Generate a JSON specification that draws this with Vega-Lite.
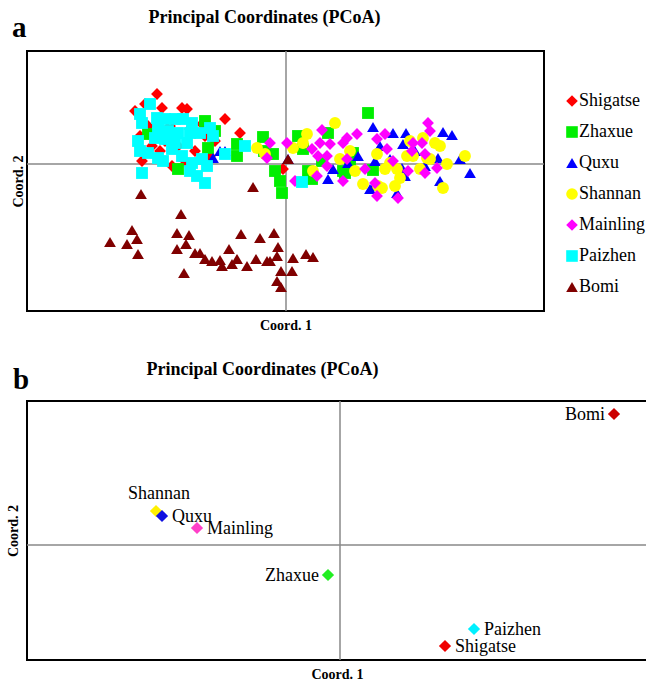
{
  "$schema": "https://vega.github.io/schema/vega-lite/v6.json",
  "padding": {"left": 5, "top": 7, "right": 0, "bottom": 0},
  "spacing": 26,
  "config": {
    "view": {"stroke": "#000", "strokeWidth": 2},
    "font": "Liberation Serif",
    "axis": {"domain": false, "ticks": false, "labels": false, "grid": false, "titleFont": "Liberation Serif", "titleFontSize": 14, "titleFontWeight": "bold", "titleColor": "#000"},
    "title": {"font": "Liberation Serif", "color": "#000"},
    "legend": {"labelFont": "Liberation Serif"},
    "text": {"font": "Liberation Serif"}
  },
  "resolve": {"scale": {"color": "independent", "shape": "independent", "x": "independent", "y": "independent"}},
  "vconcat": [
    {
      "width": 517,
      "height": 260,
      "title": {"text": "a", "anchor": "start", "frame": "group", "dx": -15, "font": "Liberation Serif", "fontSize": 29, "fontWeight": "bold", "offset": -35},
      "resolve": {"axis": {"x": "independent", "y": "independent"}},
      "layer": [
        {
          "data": {"values": [{"v": 0}]},
          "mark": {"type": "rule", "color": "#888", "strokeWidth": 1.5},
          "encoding": {"x": {"field": "v", "type": "quantitative", "scale": {"domain": [-2.59, 2.58], "nice": false, "zero": false},
            "axis": {"orient": "top", "title": "Principal Coordinates (PCoA)", "titleFont": "Liberation Serif", "titleFontSize": 18, "titlePadding": 25, "titleX": 237}}}
        },
        {
          "data": {"values": [{"v": 0}]},
          "mark": {"type": "rule", "color": "#888", "strokeWidth": 1.5},
          "encoding": {"y": {"field": "v", "type": "quantitative", "scale": {"domain": [-1.47, 1.13], "nice": false, "zero": false}, "axis": null}}
        },
        {
          "data": {"values": [
            {"pop":"Shigatse","x":-1.29,"y":0.70},{"pop":"Shigatse","x":-1.41,"y":0.60},{"pop":"Shigatse","x":-1.24,"y":0.56},{"pop":"Shigatse","x":-1.04,"y":0.56},{"pop":"Shigatse","x":-0.99,"y":0.55},{"pop":"Shigatse","x":-0.61,"y":0.45},{"pop":"Shigatse","x":-0.46,"y":0.31},{"pop":"Shigatse","x":-1.44,"y":0.03},{"pop":"Shigatse","x":-1.08,"y":0.18},{"pop":"Shigatse","x":-0.84,"y":0.40},{"pop":"Shigatse","x":-1.34,"y":0.18},{"pop":"Shigatse","x":-1.14,"y":-0.02},{"pop":"Shigatse","x":-1.51,"y":0.53},{"pop":"Shigatse","x":-1.38,"y":0.38},{"pop":"Shigatse","x":-1.16,"y":0.38},{"pop":"Shigatse","x":-0.96,"y":0.35},{"pop":"Shigatse","x":-0.81,"y":0.28},{"pop":"Shigatse","x":-1.26,"y":0.13},{"pop":"Shigatse","x":-0.91,"y":0.13},{"pop":"Shigatse","x":-0.71,"y":0.23},{"pop":"Shigatse","x":-1.21,"y":0.23},{"pop":"Shigatse","x":-1.01,"y":0.03},{"pop":"Shigatse","x":-1.46,"y":0.28},{"pop":"Shigatse","x":-0.76,"y":0.08},{"pop":"Shigatse","x":-0.03,"y":-0.05},
            {"pop":"Zhaxue","x":-1.38,"y":0.30},{"pop":"Zhaxue","x":-0.81,"y":0.43},{"pop":"Zhaxue","x":-0.78,"y":0.16},{"pop":"Zhaxue","x":-0.49,"y":0.20},{"pop":"Zhaxue","x":-0.49,"y":0.08},{"pop":"Zhaxue","x":-1.08,"y":-0.05},{"pop":"Zhaxue","x":-0.23,"y":0.27},{"pop":"Zhaxue","x":-0.13,"y":0.10},{"pop":"Zhaxue","x":-0.11,"y":-0.07},{"pop":"Zhaxue","x":-0.06,"y":-0.17},{"pop":"Zhaxue","x":-0.04,"y":-0.29},{"pop":"Zhaxue","x":0.12,"y":0.28},{"pop":"Zhaxue","x":0.17,"y":0.15},{"pop":"Zhaxue","x":0.22,"y":-0.07},{"pop":"Zhaxue","x":0.26,"y":-0.15},{"pop":"Zhaxue","x":0.42,"y":0.31},{"pop":"Zhaxue","x":0.36,"y":0.03},{"pop":"Zhaxue","x":0.64,"y":0.00},{"pop":"Zhaxue","x":0.59,"y":-0.09},{"pop":"Zhaxue","x":0.82,"y":0.51},{"pop":"Zhaxue","x":0.67,"y":0.11},{"pop":"Zhaxue","x":0.57,"y":-0.07},{"pop":"Zhaxue","x":0.87,"y":-0.06},{"pop":"Zhaxue","x":-0.71,"y":0.33},{"pop":"Zhaxue","x":-0.22,"y":0.13},
            {"pop":"Quxu","x":-0.73,"y":0.06},{"pop":"Quxu","x":-0.66,"y":0.13},{"pop":"Quxu","x":-0.61,"y":0.13},{"pop":"Quxu","x":0.02,"y":0.05},{"pop":"Quxu","x":0.47,"y":-0.05},{"pop":"Quxu","x":0.42,"y":-0.15},{"pop":"Quxu","x":0.62,"y":0.01},{"pop":"Quxu","x":0.72,"y":0.08},{"pop":"Quxu","x":0.87,"y":0.37},{"pop":"Quxu","x":1.07,"y":0.31},{"pop":"Quxu","x":1.20,"y":0.31},{"pop":"Quxu","x":1.57,"y":0.32},{"pop":"Quxu","x":1.66,"y":0.29},{"pop":"Quxu","x":1.84,"y":-0.09},{"pop":"Quxu","x":1.74,"y":0.05},{"pop":"Quxu","x":1.54,"y":-0.17},{"pop":"Quxu","x":0.84,"y":-0.25},{"pop":"Quxu","x":1.11,"y":-0.29},{"pop":"Quxu","x":1.19,"y":-0.12},{"pop":"Quxu","x":1.17,"y":0.20},{"pop":"Quxu","x":1.52,"y":0.06},{"pop":"Quxu","x":1.16,"y":-0.04},{"pop":"Quxu","x":1.04,"y":0.05},{"pop":"Quxu","x":0.88,"y":-0.22},{"pop":"Quxu","x":1.39,"y":-0.02},{"pop":"Quxu","x":1.29,"y":0.13},{"pop":"Quxu","x":0.94,"y":0.18},{"pop":"Quxu","x":0.89,"y":0.03},
            {"pop":"Shannan","x":0.49,"y":0.41},{"pop":"Shannan","x":0.21,"y":0.30},{"pop":"Shannan","x":0.07,"y":0.16},{"pop":"Shannan","x":0.27,"y":-0.07},{"pop":"Shannan","x":0.77,"y":-0.20},{"pop":"Shannan","x":0.96,"y":-0.24},{"pop":"Shannan","x":1.57,"y":-0.24},{"pop":"Shannan","x":1.79,"y":0.08},{"pop":"Shannan","x":1.54,"y":0.18},{"pop":"Shannan","x":0.91,"y":0.10},{"pop":"Shannan","x":1.27,"y":0.08},{"pop":"Shannan","x":1.11,"y":-0.05},{"pop":"Shannan","x":1.04,"y":0.01},{"pop":"Shannan","x":1.41,"y":0.06},{"pop":"Shannan","x":1.34,"y":-0.05},{"pop":"Shannan","x":-0.29,"y":0.16},{"pop":"Shannan","x":0.17,"y":0.21},{"pop":"Shannan","x":1.37,"y":0.26},{"pop":"Shannan","x":1.21,"y":0.08},{"pop":"Shannan","x":1.44,"y":0.05},{"pop":"Shannan","x":1.61,"y":0.00},{"pop":"Shannan","x":0.99,"y":-0.05},{"pop":"Shannan","x":1.14,"y":-0.14},{"pop":"Shannan","x":0.92,"y":-0.22},{"pop":"Shannan","x":1.09,"y":-0.22},{"pop":"Shannan","x":1.49,"y":0.21},{"pop":"Shannan","x":0.64,"y":0.13},{"pop":"Shannan","x":0.54,"y":0.05},{"pop":"Shannan","x":0.69,"y":-0.07},{"pop":"Shannan","x":1.24,"y":0.23},{"pop":"Shannan","x":-0.21,"y":0.10},
            {"pop":"Mainling","x":-0.16,"y":0.21},{"pop":"Mainling","x":-0.19,"y":0.06},{"pop":"Mainling","x":0.01,"y":0.21},{"pop":"Mainling","x":0.36,"y":0.34},{"pop":"Mainling","x":0.26,"y":0.15},{"pop":"Mainling","x":0.34,"y":0.21},{"pop":"Mainling","x":0.44,"y":0.20},{"pop":"Mainling","x":0.32,"y":0.08},{"pop":"Mainling","x":0.41,"y":0.08},{"pop":"Mainling","x":0.57,"y":0.21},{"pop":"Mainling","x":0.61,"y":0.26},{"pop":"Mainling","x":0.71,"y":0.30},{"pop":"Mainling","x":0.61,"y":0.05},{"pop":"Mainling","x":0.79,"y":-0.05},{"pop":"Mainling","x":0.31,"y":-0.12},{"pop":"Mainling","x":0.57,"y":-0.17},{"pop":"Mainling","x":0.41,"y":-0.02},{"pop":"Mainling","x":1.42,"y":0.41},{"pop":"Mainling","x":1.44,"y":0.33},{"pop":"Mainling","x":0.99,"y":0.30},{"pop":"Mainling","x":0.91,"y":0.25},{"pop":"Mainling","x":1.01,"y":0.15},{"pop":"Mainling","x":1.27,"y":0.21},{"pop":"Mainling","x":1.36,"y":0.21},{"pop":"Mainling","x":1.26,"y":0.13},{"pop":"Mainling","x":1.39,"y":0.10},{"pop":"Mainling","x":1.07,"y":0.03},{"pop":"Mainling","x":1.51,"y":-0.04},{"pop":"Mainling","x":1.22,"y":-0.07},{"pop":"Mainling","x":1.39,"y":-0.09},{"pop":"Mainling","x":0.89,"y":-0.19},{"pop":"Mainling","x":0.91,"y":-0.32},{"pop":"Mainling","x":1.12,"y":-0.34},{"pop":"Mainling","x":0.09,"y":-0.17},
            {"pop":"Paizhen","x":-1.36,"y":0.60},{"pop":"Paizhen","x":-1.46,"y":0.50},{"pop":"Paizhen","x":-1.44,"y":0.41},{"pop":"Paizhen","x":-1.29,"y":0.46},{"pop":"Paizhen","x":-1.21,"y":0.45},{"pop":"Paizhen","x":-1.11,"y":0.45},{"pop":"Paizhen","x":-1.03,"y":0.45},{"pop":"Paizhen","x":-0.94,"y":0.41},{"pop":"Paizhen","x":-1.28,"y":0.35},{"pop":"Paizhen","x":-1.18,"y":0.33},{"pop":"Paizhen","x":-1.08,"y":0.31},{"pop":"Paizhen","x":-0.96,"y":0.31},{"pop":"Paizhen","x":-0.86,"y":0.31},{"pop":"Paizhen","x":-0.76,"y":0.36},{"pop":"Paizhen","x":-0.73,"y":0.28},{"pop":"Paizhen","x":-1.48,"y":0.23},{"pop":"Paizhen","x":-1.31,"y":0.26},{"pop":"Paizhen","x":-1.21,"y":0.25},{"pop":"Paizhen","x":-1.11,"y":0.21},{"pop":"Paizhen","x":-0.99,"y":0.21},{"pop":"Paizhen","x":-1.46,"y":0.13},{"pop":"Paizhen","x":-1.38,"y":0.11},{"pop":"Paizhen","x":-1.28,"y":0.06},{"pop":"Paizhen","x":-1.23,"y":0.03},{"pop":"Paizhen","x":-1.14,"y":0.15},{"pop":"Paizhen","x":-1.04,"y":0.08},{"pop":"Paizhen","x":-0.94,"y":0.01},{"pop":"Paizhen","x":-0.84,"y":0.05},{"pop":"Paizhen","x":-0.79,"y":-0.02},{"pop":"Paizhen","x":-0.96,"y":-0.07},{"pop":"Paizhen","x":-0.89,"y":-0.12},{"pop":"Paizhen","x":-0.81,"y":-0.19},{"pop":"Paizhen","x":-1.44,"y":-0.09},{"pop":"Paizhen","x":-0.61,"y":0.10},{"pop":"Paizhen","x":-0.41,"y":0.18},{"pop":"Paizhen","x":-1.16,"y":0.28},{"pop":"Paizhen","x":0.16,"y":-0.18},
            {"pop":"Bomi","x":-1.45,"y":-0.30},{"pop":"Bomi","x":-0.33,"y":-0.23},{"pop":"Bomi","x":-1.05,"y":-0.50},{"pop":"Bomi","x":-1.54,"y":-0.66},{"pop":"Bomi","x":-1.76,"y":-0.78},{"pop":"Bomi","x":-1.59,"y":-0.80},{"pop":"Bomi","x":-1.49,"y":-0.75},{"pop":"Bomi","x":-1.48,"y":-0.90},{"pop":"Bomi","x":-1.09,"y":-0.69},{"pop":"Bomi","x":-0.97,"y":-0.71},{"pop":"Bomi","x":-1.09,"y":-0.85},{"pop":"Bomi","x":-1.00,"y":-0.80},{"pop":"Bomi","x":-0.91,"y":-0.89},{"pop":"Bomi","x":-0.86,"y":-0.89},{"pop":"Bomi","x":-0.81,"y":-0.95},{"pop":"Bomi","x":-0.74,"y":-0.97},{"pop":"Bomi","x":-0.66,"y":-0.96},{"pop":"Bomi","x":-0.64,"y":-1.02},{"pop":"Bomi","x":-0.57,"y":-0.85},{"pop":"Bomi","x":-0.54,"y":-1.00},{"pop":"Bomi","x":-0.49,"y":-0.95},{"pop":"Bomi","x":-0.45,"y":-0.70},{"pop":"Bomi","x":-0.39,"y":-1.02},{"pop":"Bomi","x":-0.30,"y":-0.95},{"pop":"Bomi","x":-0.26,"y":-0.74},{"pop":"Bomi","x":-0.19,"y":-0.97},{"pop":"Bomi","x":-0.16,"y":-0.97},{"pop":"Bomi","x":-0.12,"y":-0.69},{"pop":"Bomi","x":-0.08,"y":-0.83},{"pop":"Bomi","x":-0.09,"y":-0.92},{"pop":"Bomi","x":-0.05,"y":-1.07},{"pop":"Bomi","x":-0.09,"y":-1.17},{"pop":"Bomi","x":-0.05,"y":-1.23},{"pop":"Bomi","x":0.06,"y":-1.07},{"pop":"Bomi","x":0.07,"y":-0.94},{"pop":"Bomi","x":0.20,"y":-0.90},{"pop":"Bomi","x":0.27,"y":-0.93},{"pop":"Bomi","x":-1.02,"y":-1.09},{"pop":"Bomi","x":0.02,"y":0.05}
          ]},
          "mark": {"type": "point", "filled": true, "opacity": 1, "size": 140, "strokeWidth": 0},
          "encoding": {
            "x": {"field": "x", "type": "quantitative", "axis": {"title": "Coord. 1", "titlePadding": 7}},
            "y": {"field": "y", "type": "quantitative", "axis": {"title": "Coord. 2", "titlePadding": 2}},
            "color": {"field": "pop", "type": "nominal",
              "scale": {"domain": ["Shigatse","Zhaxue","Quxu","Shannan","Mainling","Paizhen","Bomi"], "range": ["#FF0000","#00EE00","#0000FF","#FFFF00","#FF00FF","#00FFFF","#800000"]},
              "legend": {"orient": "none", "legendX": 536, "legendY": 41, "title": null, "labelFont": "Liberation Serif", "labelFontSize": 18, "labelColor": "#000", "symbolSize": 135, "rowPadding": 13, "labelOffset": -2, "symbolStrokeWidth": 0}},
            "shape": {"field": "pop", "type": "nominal",
              "scale": {"domain": ["Shigatse","Zhaxue","Quxu","Shannan","Mainling","Paizhen","Bomi"], "range": ["diamond","square","triangle-up","circle","diamond","square","triangle-up"]},
              "legend": {"orient": "none", "legendX": 536, "legendY": 41, "title": null, "labelFont": "Liberation Serif", "labelFontSize": 18, "labelColor": "#000", "symbolSize": 135, "rowPadding": 13, "labelOffset": -2, "symbolStrokeWidth": 0}}
          }
        }
      ]
    },
    {
      "width": 620,
      "height": 259,
      "title": {"text": "b", "anchor": "start", "frame": "group", "dx": -14, "font": "Liberation Serif", "fontSize": 29, "fontWeight": "bold", "offset": -35},
      "resolve": {"axis": {"x": "independent", "y": "independent"}},
      "data": {"values": [
        {"pop": "Shannan", "x": -1.84, "y": 0.34},
        {"pop": "Quxu", "x": -1.78, "y": 0.29},
        {"pop": "Mainling", "x": -1.43, "y": 0.17},
        {"pop": "Zhaxue", "x": -0.12, "y": -0.30},
        {"pop": "Paizhen", "x": 1.34, "y": -0.84},
        {"pop": "Shigatse", "x": 1.05, "y": -1.01},
        {"pop": "Bomi", "x": 2.74, "y": 1.31}
      ]},
      "layer": [
        {
          "data": {"values": [{"v": 0}]},
          "mark": {"type": "rule", "color": "#888", "strokeWidth": 1.5},
          "encoding": {"x": {"field": "v", "type": "quantitative", "scale": {"domain": [-3.13, 3.07], "nice": false, "zero": false},
            "axis": {"orient": "top", "title": "Principal Coordinates (PCoA)", "titleFont": "Liberation Serif", "titleFontSize": 18, "titlePadding": 23, "titleX": 235}}}
        },
        {
          "data": {"values": [{"v": 0}]},
          "mark": {"type": "rule", "color": "#888", "strokeWidth": 1.5},
          "encoding": {"y": {"field": "v", "type": "quantitative", "scale": {"domain": [-1.15, 1.44], "nice": false, "zero": false}, "axis": null}}
        },
        {
          "mark": {"type": "point", "filled": true, "opacity": 1, "size": 150, "shape": "diamond", "strokeWidth": 0},
          "encoding": {
            "x": {"field": "x", "type": "quantitative", "axis": {"title": "Coord. 1", "titlePadding": 7}},
            "y": {"field": "y", "type": "quantitative", "axis": {"title": "Coord. 2", "titlePadding": 7}},
            "color": {"field": "pop", "type": "nominal", "legend": null,
              "scale": {"domain": ["Shigatse","Zhaxue","Quxu","Shannan","Mainling","Paizhen","Bomi"], "range": ["#F00000","#22EE22","#1010E0","#FFF000","#FF40C8","#00F0FF","#CC0000"]}}
          }
        },
        {
          "transform": [{"filter": {"field": "pop", "oneOf": ["Quxu", "Mainling", "Paizhen", "Shigatse"]}}],
          "mark": {"type": "text", "align": "left", "baseline": "middle", "dx": 10, "dy": 1, "font": "Liberation Serif", "fontSize": 18, "color": "#000"},
          "encoding": {"x": {"field": "x", "type": "quantitative", "axis": null}, "y": {"field": "y", "type": "quantitative", "axis": null}, "text": {"field": "pop"}}
        },
        {
          "transform": [{"filter": {"field": "pop", "oneOf": ["Zhaxue", "Bomi"]}}],
          "mark": {"type": "text", "align": "right", "baseline": "middle", "dx": -9, "dy": 1, "font": "Liberation Serif", "fontSize": 18, "color": "#000"},
          "encoding": {"x": {"field": "x", "type": "quantitative", "axis": null}, "y": {"field": "y", "type": "quantitative", "axis": null}, "text": {"field": "pop"}}
        },
        {
          "transform": [{"filter": {"field": "pop", "oneOf": ["Shannan"]}}],
          "mark": {"type": "text", "align": "center", "baseline": "middle", "dx": 3, "dy": -17, "font": "Liberation Serif", "fontSize": 18, "color": "#000"},
          "encoding": {"x": {"field": "x", "type": "quantitative", "axis": null}, "y": {"field": "y", "type": "quantitative", "axis": null}, "text": {"field": "pop"}}
        }
      ]
    }
  ]
}
